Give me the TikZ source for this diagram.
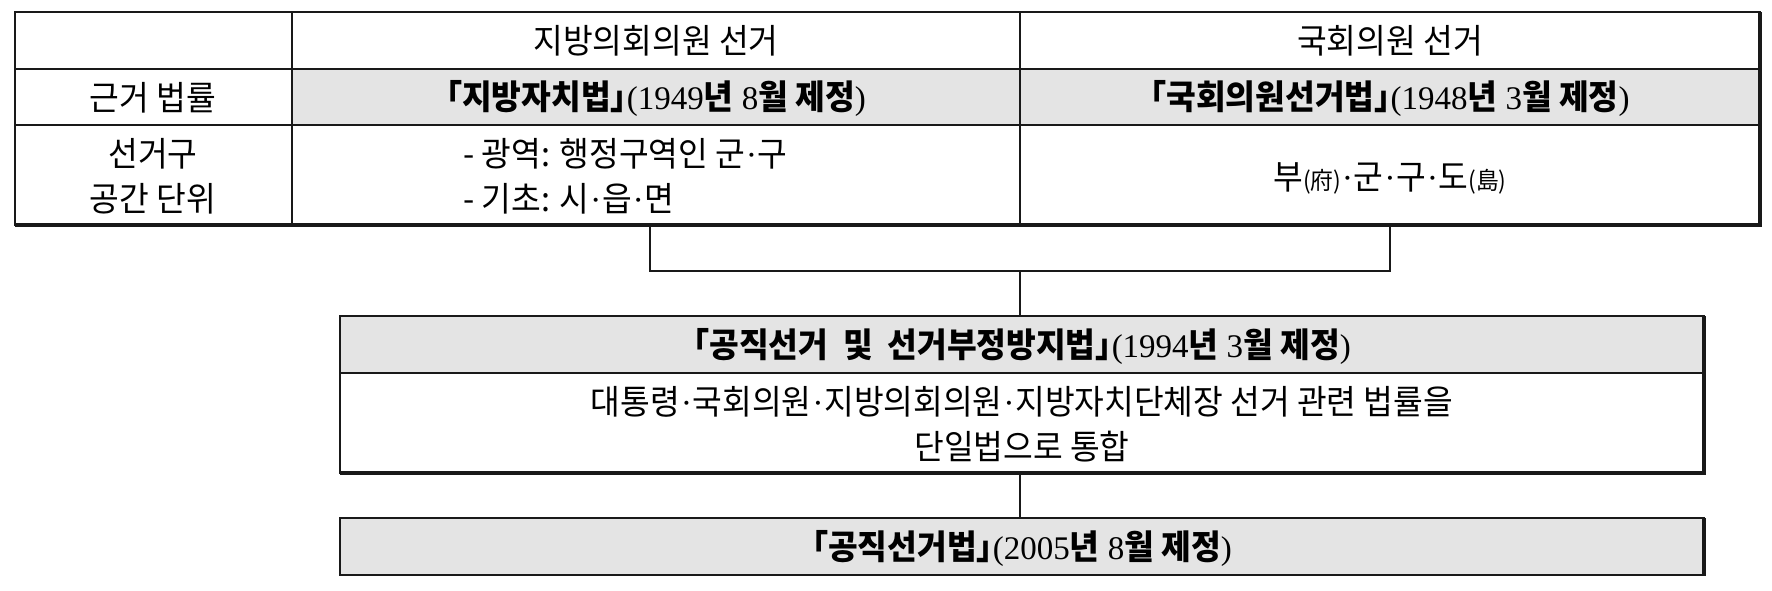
\documentclass[tikz,border=0pt]{standalone}
\usepackage{fontspec}
\setmainfont{Liberation Serif}
\newfontfamily\kr[FakeStretch=0.95]{Noto Sans CJK KR}
\definecolor{boxgray}{RGB}{228,228,228}
\definecolor{linec}{RGB}{25,25,25}
\newcommand\krtext{\kr\fontsize{34}{45}\selectfont}
\newcommand\nm[1]{{\rmfamily\mdseries\fontsize{33}{45}\selectfont #1}}
\newcommand\hj[1]{{\fontsize{24}{45}\selectfont #1}}
\newcommand\md{{\rmfamily\mdseries\kern0.02em·\kern0.02em}}
\newcommand\lb{｢}
\newcommand\rb{｣}
\tikzset{
  txt/.style={inner sep=0pt, font=\krtext, align=center, text=black},
  edge/.style={line width=1.5pt, draw=linec},
  shade/.style={line width=4.5pt, draw=linec},
  conn/.style={line width=1.3pt, draw=linec},
  frame/.style={inner sep=0pt, draw=none},
}
\begin{document}
\begin{tikzpicture}[x=1pt,y=-1pt]
\useasboundingbox (0,0) rectangle (1772,590);
% ---------- table ----------
\node[frame, minimum width=1745pt, minimum height=213pt] (tbl) at (887.5,118.5) {};
\fill[boxgray] (292,69) rectangle (1760,125);
\draw[edge] (15,12) rectangle (1760,225);
\draw[edge] (15,69) -- (1760,69);
\draw[edge] (15,125) -- (1760,125);
\draw[edge] (292,12) -- (292,225);
\draw[edge] (1020,12) -- (1020,225);
\draw[shade] (1760,12) -- (1760,227.25);
\draw[shade] (15,225) -- (1762.25,225);
% header row
\node[txt] (h1) at (656,41) {지방의회의원 선거};
\node[txt] (h2) at (1390,41) {국회의원 선거};
% law row
\node[txt] (r1) at (153,98) {근거 법률};
\node[txt] (l1) at (656,98) {\bfseries \lb 지방자치법\rb\nm{(1949}년\nm{ 8}월 제정\nm{)}};
\node[txt] (l2) at (1390,98) {\bfseries \lb 국회의원선거법\rb\nm{(1948}년\nm{ 3}월 제정\nm{)}};
% district row
\node[txt] (r2) at (153,176) {선거구\\공간 단위};
\node[txt, anchor=west, align=left] (d1) at (463,176) {- 광역: 행정구역인 군\md 구\\- 기초: 시\md 읍\md 면};
\node[txt] (d2) at (1390,178) {부\hj{(府)}\md 군\md 구\md 도\hj{(島)}};
% ---------- 1994 box ----------
\node[frame, minimum width=1364pt, minimum height=157pt] (law94) at (1022,394.5) {};
\fill[boxgray] (340,316) rectangle (1704,373);
\draw[edge] (340,316) rectangle (1704,473);
\draw[edge] (340,373) -- (1704,373);
\draw[shade] (1704,316) -- (1704,475.25);
\draw[shade] (340,473) -- (1706.25,473);
\node[txt] (b2h) at (1022,346) {\bfseries \lb 공직선거\ \ 및\ \ 선거부정방지법\rb\nm{(1994}년\nm{ 3}월 제정\nm{)}};
\node[txt] (b2b) at (1022,424) {대통령\md 국회의원\md 지방의회의원\md 지방자치단체장 선거 관련 법률을\\단일법으로 통합};
% ---------- 2005 box ----------
\node[frame, minimum width=1364pt, minimum height=57pt] (law05) at (1022,546.5) {};
\fill[boxgray] (340,518) rectangle (1704,575);
\draw[edge] (340,518) rectangle (1704,575);
\draw[shade] (1704,518) -- (1704,576);
\node[txt] (b3) at (1022,548) {\bfseries \lb 공직선거법\rb\nm{(2005}년\nm{ 8}월 제정\nm{)}};
% ---------- connectors ----------
\coordinate (jL) at (650,271);
\coordinate (jR) at (1390,271);
\coordinate (jM) at (1020,271);
\draw[conn] (tbl.south -| jL) -- (jL) -- (jR) -- (tbl.south -| jR);
\draw[conn] (jM) -- (law94.north -| jM);
\draw[conn] (law94.south -| jM) -- (law05.north -| jM);
\end{tikzpicture}
\end{document}
